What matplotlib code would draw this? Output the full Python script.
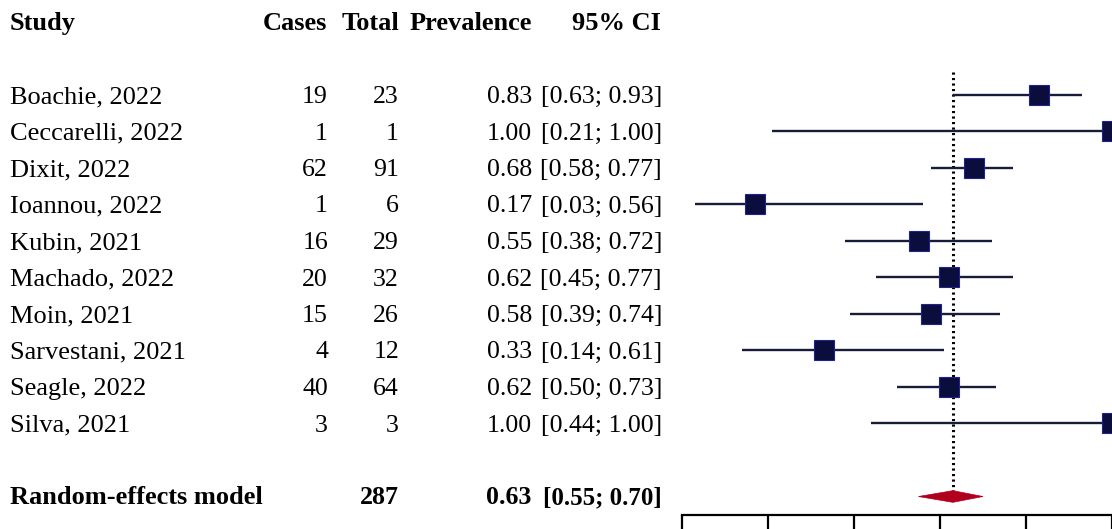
import matplotlib
matplotlib.use("Agg")
import matplotlib.pyplot as plt
from matplotlib.patches import Polygon

# ---------------- data ----------------
studies = ["Boachie, 2022", "Ceccarelli, 2022", "Dixit, 2022", "Ioannou, 2022",
           "Kubin, 2021", "Machado, 2022", "Moin, 2021", "Sarvestani, 2021",
           "Seagle, 2022", "Silva, 2021"]
cases = [19, 1, 62, 1, 16, 20, 15, 4, 40, 3]
totals = [23, 1, 91, 6, 29, 32, 26, 12, 64, 3]
prevalence = [0.83, 1.00, 0.68, 0.17, 0.55, 0.62, 0.58, 0.33, 0.62, 1.00]
ci_low = [0.63, 0.21, 0.58, 0.03, 0.38, 0.45, 0.39, 0.14, 0.50, 0.44]
ci_high = [0.93, 1.00, 0.77, 0.56, 0.72, 0.77, 0.74, 0.61, 0.73, 1.00]

summary_label = "Random-effects model"
summary_total = 287
summary_est = 0.63
summary_low = 0.55
summary_high = 0.70

headers = ["Study", "Cases", "Total", "Prevalence", "95% CI"]
xticks = [0.0, 0.2, 0.4, 0.6, 0.8, 1.0]

# ---------------- layout ----------------
W, H = 1112, 529
ROW_PX = 36.5          # pixel spacing between rows
ROW0_PX = 95           # pixel y of first study row
AXIS_PX = 515          # pixel y of the x-axis line
PLOT_LEFT_PX, PLOT_RIGHT_PX = 682, 1112
BASE_OFF = 8 / ROW_PX  # baseline offset of text relative to row centre

n = len(studies)
rows = list(range(n))
summary_row = n + 1
header_row = -2

top_val = -ROW0_PX / ROW_PX
bottom_fig_val = (H - ROW0_PX) / ROW_PX
bottom_axis_val = (AXIS_PX - ROW0_PX) / ROW_PX

serif = "Liberation Serif"
fs_name = 19.0
fs_num = 18.6

fig = plt.figure(figsize=(W / 100, H / 100), dpi=100)
fig.patch.set_facecolor("white")

# text axes spanning the full figure
tax = fig.add_axes([0, 0, 1, 1])
tax.set_xlim(0, W)
tax.set_ylim(bottom_fig_val, top_val)
tax.axis("off")

col_left_study = 10
col_cases = 328
col_total = 399
col_prev = 532
col_ci = 662

def put(x, row, s, ha, bold=False, fs=fs_num):
    tax.text(x, row + BASE_OFF, s, ha=ha, va="baseline", fontsize=fs,
             family=serif, fontweight="bold" if bold else "normal", color="black")

# headers
put(col_left_study, header_row, headers[0], "left", True, fs_name)
put(col_cases - 1, header_row, headers[1], "right", True, fs_name)
put(col_total, header_row, headers[2], "right", True, fs_name)
put(col_prev, header_row, headers[3], "right", True, fs_name)
put(col_ci - 1, header_row, headers[4], "right", True, fs_name)

for r, s, c, t, p, lo, hi in zip(rows, studies, cases, totals, prevalence, ci_low, ci_high):
    put(col_left_study, r, s, "left", False, fs_name)
    put(col_cases, r, str(c), "right")
    put(col_total, r, str(t), "right")
    put(col_prev, r, f"{p:.2f}", "right")
    put(col_ci, r, f"[{lo:.2f}; {hi:.2f}]", "right")

put(col_left_study, summary_row, summary_label, "left", True, fs_name)
put(col_total, summary_row, str(summary_total), "right", True)
put(col_prev - 1, summary_row, f"{summary_est:.2f}", "right", True)
put(col_ci, summary_row, f"[{summary_low:.2f}; {summary_high:.2f}]", "right", True, 18.0)

# forest plot axes
ax_bottom = (H - AXIS_PX) / H
ax = fig.add_axes([PLOT_LEFT_PX / W, ax_bottom,
                   (PLOT_RIGHT_PX - PLOT_LEFT_PX) / W, 1 - ax_bottom])
ax.set_xlim(0, 1)
ax.set_ylim(bottom_axis_val, top_val)
ax.patch.set_alpha(0)
for sp in ["left", "right", "top"]:
    ax.spines[sp].set_visible(False)
ax.spines["bottom"].set_linewidth(1.6)
ax.spines["bottom"].set_color("black")
ax.set_yticks([])
ax.set_xticks(xticks)
ax.tick_params(axis="x", direction="out", length=12, width=1.6,
               labelbottom=False, color="black")

# reference dotted line at summary estimate
ax.plot([summary_est, summary_est], [-0.63, summary_row - 0.15],
        color="black", lw=2.2, linestyle=(0, (0.7, 1.1)), zorder=2)

# CI lines and squares
line_col = "#181c38"
for r, p, lo, hi in zip(rows, prevalence, ci_low, ci_high):
    ax.plot([lo, hi], [r, r], color=line_col, lw=1.7, solid_capstyle="butt", zorder=3)
    ax.plot([p], [r], marker="s", markersize=14, markerfacecolor="#0b0d3d",
            markeredgecolor="#1f2390", markeredgewidth=0.8, linestyle="none", zorder=4)

# summary diamond
h = 0.16
diamond = Polygon([[summary_low, summary_row], [summary_est, summary_row - h],
                   [summary_high, summary_row], [summary_est, summary_row + h]],
                  closed=True, facecolor="#b0001e", edgecolor="#b0001e", lw=0.5, zorder=4)
ax.add_patch(diamond)

fig.savefig("out.png", dpi=100, facecolor="white")
